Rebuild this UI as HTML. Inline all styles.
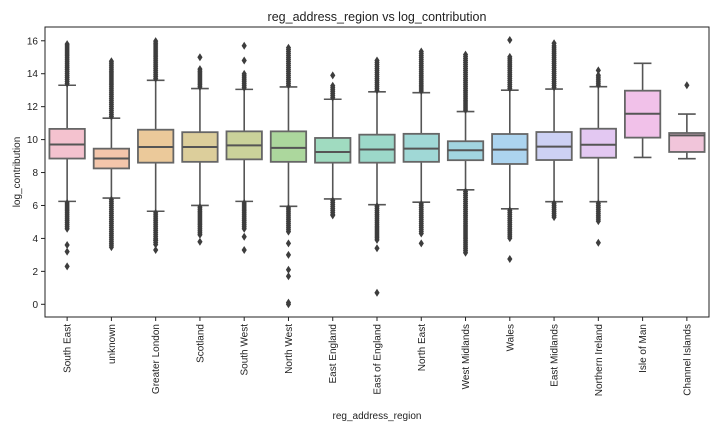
<!DOCTYPE html>
<html><head><meta charset="utf-8">
<style>
html,body{margin:0;padding:0;background:#fff;}
svg{display:block;font-family:"Liberation Sans","DejaVu Sans",sans-serif;}
</style></head>
<body>
<svg id="chart" width="720" height="432" viewBox="0 0 720 432">
<text x="377" y="21" text-anchor="middle" font-size="12.5" fill="#222">reg_address_region vs log_contribution</text>
<g id="plot"></g>
<text x="377" y="419" text-anchor="middle" font-size="10" fill="#222">reg_address_region</text>
<text transform="translate(20,172) rotate(-90)" text-anchor="middle" font-size="10" fill="#222">log_contribution</text>
</svg>
<script>
const categories = ["South East","unknown","Greater London","Scotland","South West","North West","East England","East of England","North East","West Midlands","Wales","East Midlands","Northern Ireland","Isle of Man","Channel Islands"];
const whiskerLow = [6.25,6.45,5.65,6.0,6.25,5.95,6.4,6.05,6.2,6.95,5.8,6.23,6.23,8.92,8.84];
const q1 = [8.85,8.25,8.6,8.65,8.8,8.65,8.6,8.6,8.65,8.75,8.52,8.76,8.9,10.12,9.25];
const median = [9.7,8.85,9.55,9.55,9.65,9.5,9.25,9.4,9.45,9.35,9.39,9.57,9.69,11.57,10.26];
const q3 = [10.65,9.45,10.6,10.45,10.5,10.5,10.1,10.3,10.35,9.9,10.34,10.46,10.66,12.97,10.4];
const whiskerHigh = [13.3,11.3,13.6,13.1,13.05,13.2,12.45,12.9,12.85,11.7,13.0,13.07,13.21,14.63,11.55];
const denseLowMin = [4.5,3.4,3.6,4.2,4.5,4.3,5.4,3.9,4.2,3.1,3.9,5.2,5.0,null,null];
const denseHighMax = [15.8,14.8,16.0,14.3,14.0,15.6,13.3,14.8,15.4,15.2,15.1,15.7,14.0,null,null];
const sparseOutliers = [[2.3,3.2,3.6],[],[3.3,3.9],[3.8,15.0],[3.3,4.1,14.8,15.7],[0,0.1,1.7,2.1,3.0,3.7],[13.9,5.4],[0.7,3.4],[3.7],[],[2.75,16.05],[15.85],[3.74,14.2],[],[13.3]];
const colors = ["#f4c2cf","#f4c6ab","#ebc99a","#dcce9b","#cad29a","#acd79d","#a0dbc0","#9cd8c9","#a0d8d6","#a2d5e0","#acd4ef","#cdd1f4","#e3c8f2","#f1c1e9","#f1c5da"];
const yTicks = [0,2,4,6,8,10,12,14,16];

const L=45,R=709,T=27,B=317;
const y = v => 304.3 - v*16.47;
const step=(R-L)/categories.length;
const xc = i => L + step*(i+0.5);
const NS="http://www.w3.org/2000/svg";
const g=document.getElementById('plot');
function mk(tag,attrs,parent){const e=document.createElementNS(NS,tag);for(const k in attrs)e.setAttribute(k,attrs[k]);(parent||g).appendChild(e);return e;}
const gray="#555";
// axes frame
const frame=mk('rect',{x:L,y:T,width:R-L,height:B-T,fill:'none',stroke:'#222','stroke-width':1});


yTicks.forEach(t=>{
  const tk=mk('line',{x1:L-4,x2:L,y1:y(t),y2:y(t),stroke:'#222'});
  
  
  const tl=mk('text',{x:L-7,y:y(t)+3.5,'text-anchor':'end','font-size':10,fill:'#222'});
  tl.textContent=t;
  
  
});
function diamond(cx,cy,parent){
  const d=mk('path',{d:`M${cx} ${cy-4}L${cx+2.6} ${cy}L${cx} ${cy+4}L${cx-2.6} ${cy}Z`,fill:'#3d3d3d'},parent);
  
  
}
const bw=step*0.8;
categories.forEach((c,i)=>{
  const x=xc(i);
  const grp=mk('g',{});
  
  
  mk('line',{x1:x,x2:x,y1:y(whiskerLow[i]),y2:y(q1[i]),stroke:gray,'stroke-width':1.6},grp);
  mk('line',{x1:x,x2:x,y1:y(q3[i]),y2:y(whiskerHigh[i]),stroke:gray,'stroke-width':1.6},grp);
  mk('line',{x1:x-bw/4,x2:x+bw/4,y1:y(whiskerLow[i]),y2:y(whiskerLow[i]),stroke:gray,'stroke-width':1.6},grp);
  mk('line',{x1:x-bw/4,x2:x+bw/4,y1:y(whiskerHigh[i]),y2:y(whiskerHigh[i]),stroke:gray,'stroke-width':1.6},grp);
  mk('rect',{x:x-bw/2,y:y(q3[i]),width:bw,height:y(q1[i])-y(q3[i]),fill:colors[i],stroke:'#666','stroke-width':1.8},grp);
  mk('line',{x1:x-bw/2,x2:x+bw/2,y1:y(median[i]),y2:y(median[i]),stroke:'#555','stroke-width':2},grp);
  if(denseLowMin[i]!==null){
    for(let v=whiskerLow[i]-0.1; v>=denseLowMin[i]; v-=0.12) diamond(x,y(v),grp);
    for(let v=whiskerHigh[i]+0.1; v<=denseHighMax[i]; v+=0.12) diamond(x,y(v),grp);
  }
  sparseOutliers[i].forEach(v=>diamond(x,y(v),grp));
  const tk=mk('line',{x1:x,x2:x,y1:B,y2:B+4,stroke:'#222'});
  
  
  const tl=mk('text',{transform:`translate(${x+3.5},${B+7}) rotate(-90)`,'text-anchor':'end','font-size':10,fill:'#222'});
  tl.textContent=c;
  
  
});
</script>
</body></html>
